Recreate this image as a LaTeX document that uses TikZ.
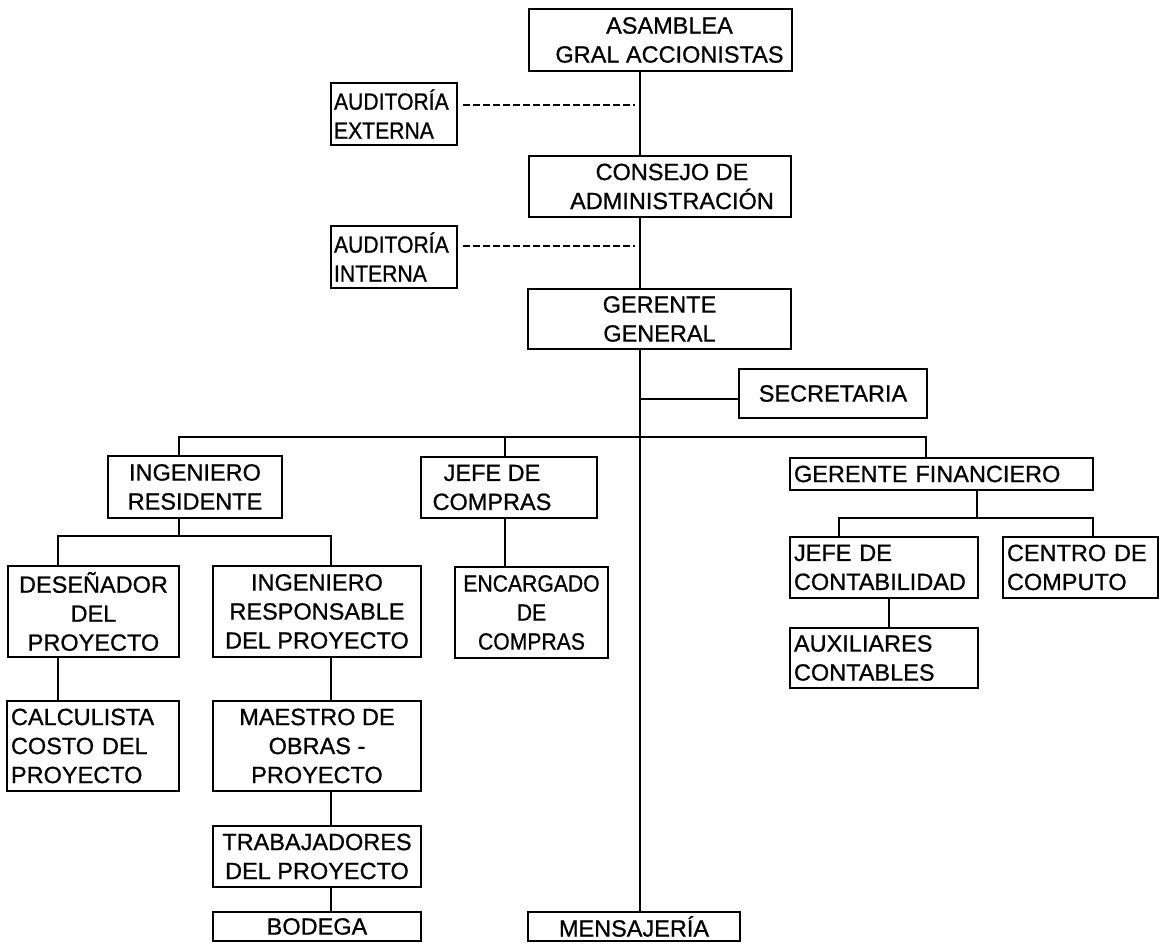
\documentclass[tikz,border=0pt]{standalone}
\usepackage{fontspec}
\setmainfont{Liberation Sans}[FakeBold=0.8]
\newfontfamily\narrowtype{Liberation Sans}[FakeStretch=0.9, FakeBold=0.8]
\begin{document}
\begin{tikzpicture}[x=1pt,y=-1pt,
  txt/.style={font=\fontsize{23.5}{29}\selectfont},
  narrowtxt/.style={font=\fontsize{23.5}{29}\narrowtype},
  box/.style={txt, draw, line width=1.6pt, rectangle, inner sep=0pt, align=center},
  lbox/.style={txt, draw, line width=1.6pt, rectangle, inner ysep=0pt, inner xsep=4pt, align=left},
  link/.style={line width=1.6pt},
  audit/.style={line width=1.2pt, dash pattern=on 7pt off 3pt}]
\useasboundingbox (0,0) rectangle (1167,943);

% top of the hierarchy
\node[box, minimum width=263, minimum height=62] (asam) at (660.5,40)
  {\hspace*{18pt}ASAMBLEA\\\hspace*{18pt}GRAL ACCIONISTAS};
\node[lbox, narrowtxt, text width=120, inner xsep=3pt, minimum height=62] (audext) at (394,114)
  {AUDITORÍA\\EXTERNA};
\node[box, minimum width=262, minimum height=61] (consejo) at (660,186.5)
  {\hspace*{24pt}CONSEJO DE\\\hspace*{24pt}ADMINISTRACIÓN};
\node[lbox, narrowtxt, text width=120, inner xsep=3pt, minimum height=62] (audint) at (394,257)
  {AUDITORÍA\\INTERNA};
\node[box, minimum width=263, minimum height=60] (gg) at (659.5,319)
  {GERENTE\\GENERAL};
\node[box, minimum width=188, minimum height=49] (secr) at (833,393.5)
  {SECRETARIA};

% second level
\node[box, minimum width=174, minimum height=62] (ingres) at (195,487)
  {INGENIERO\\RESIDENTE};
\node[box, minimum width=176, minimum height=61] (jefec) at (509,487.5)
  {JEFE DE\hspace*{34pt}\\COMPRAS\hspace*{34pt}};
\node[lbox, text width=295, minimum height=32] (gf) at (941.5,474)
  {GERENTE FINANCIERO};

% project branch
\node[box, minimum width=171, minimum height=91] (des) at (93.5,611.5)
  {DESEÑADOR\\DEL\\PROYECTO};
\node[box, minimum width=208, minimum height=91] (ingresp) at (317,611.5)
  {INGENIERO\\RESPONSABLE\\DEL PROYECTO};
\node[lbox, text width=164, minimum height=90] (calc) at (93,746)
  {CALCULISTA\\COSTO DEL\\PROYECTO};
\node[box, minimum width=208, minimum height=90] (maestro) at (317,746)
  {MAESTRO DE\\OBRAS -\\PROYECTO};
\node[box, minimum width=208, minimum height=61] (trab) at (317,856.5)
  {TRABAJADORES\\DEL PROYECTO};
\node[box, minimum width=208, minimum height=29] (bodega) at (317,926.5)
  {BODEGA};

% purchasing branch
\node[box, narrowtxt, minimum width=153, minimum height=91] (enc) at (531.5,612.5)
  {ENCARGADO\\DE\\COMPRAS};
\node[box, minimum width=212, minimum height=29] (mens) at (634,926.5)
  {MENSAJERÍA};

% finance branch
\node[lbox, text width=180, minimum height=61] (jcont) at (884,567.5)
  {JEFE DE\\CONTABILIDAD};
\node[lbox, text width=147, minimum height=61] (centro) at (1080.5,567.5)
  {CENTRO DE\\COMPUTO};
\node[lbox, text width=180, minimum height=60] (aux) at (884,658)
  {AUXILIARES\\CONTABLES};

% tap points of the connectors
\coordinate (spine) at (640,0);
\coordinate (extTap) at (635,105);
\coordinate (intTap) at (635,246);
\coordinate (secTap) at (640,399);
\coordinate (busL) at (179,437);
\coordinate (busR) at (926,437);
\coordinate (jcX) at (505,437);
\coordinate (irBus) at (179,536);
\coordinate (desX) at (58,536);
\coordinate (irpX) at (331,536);
\coordinate (gfX) at (977,518);
\coordinate (jcoX) at (839,518);
\coordinate (ccX) at (1093,518);
\coordinate (auxX) at (889,600);

% main line of command
\draw[link] (spine |- asam.south) -- (spine |- consejo.north);
\draw[link] (spine |- consejo.south) -- (spine |- gg.north);
\draw[link] (spine |- gg.south) -- (spine |- mens.north);
\draw[audit, shorten <=5pt] (extTap -| audext.east) -- (extTap);
\draw[audit, shorten <=5pt] (intTap -| audint.east) -- (intTap);
\draw[link] (secTap) -- (secTap -| secr.west);

% departments under the general manager
\draw[link] (busL |- ingres.north) -- (busL) -- (busR) -- (busR |- gf.north);
\draw[link] (jcX) -- (jcX |- jefec.north);
\draw[link] (jcX |- jefec.south) -- (jcX |- enc.north);

% resident engineer
\draw[link] (irBus |- ingres.south) -- (irBus);
\draw[link] (desX |- des.north) -- (desX) -- (irpX) -- (irpX |- ingresp.north);
\draw[link] (desX |- des.south) -- (desX |- calc.north);
\draw[link] (irpX |- ingresp.south) -- (irpX |- maestro.north);
\draw[link] (irpX |- maestro.south) -- (irpX |- trab.north);
\draw[link] (irpX |- trab.south) -- (irpX |- bodega.north);

% financial manager
\draw[link] (gfX |- gf.south) -- (gfX);
\draw[link] (jcoX |- jcont.north) -- (jcoX) -- (ccX) -- (ccX |- centro.north);
\draw[link] (auxX |- jcont.south) -- (auxX |- aux.north);
\end{tikzpicture}
\end{document}
